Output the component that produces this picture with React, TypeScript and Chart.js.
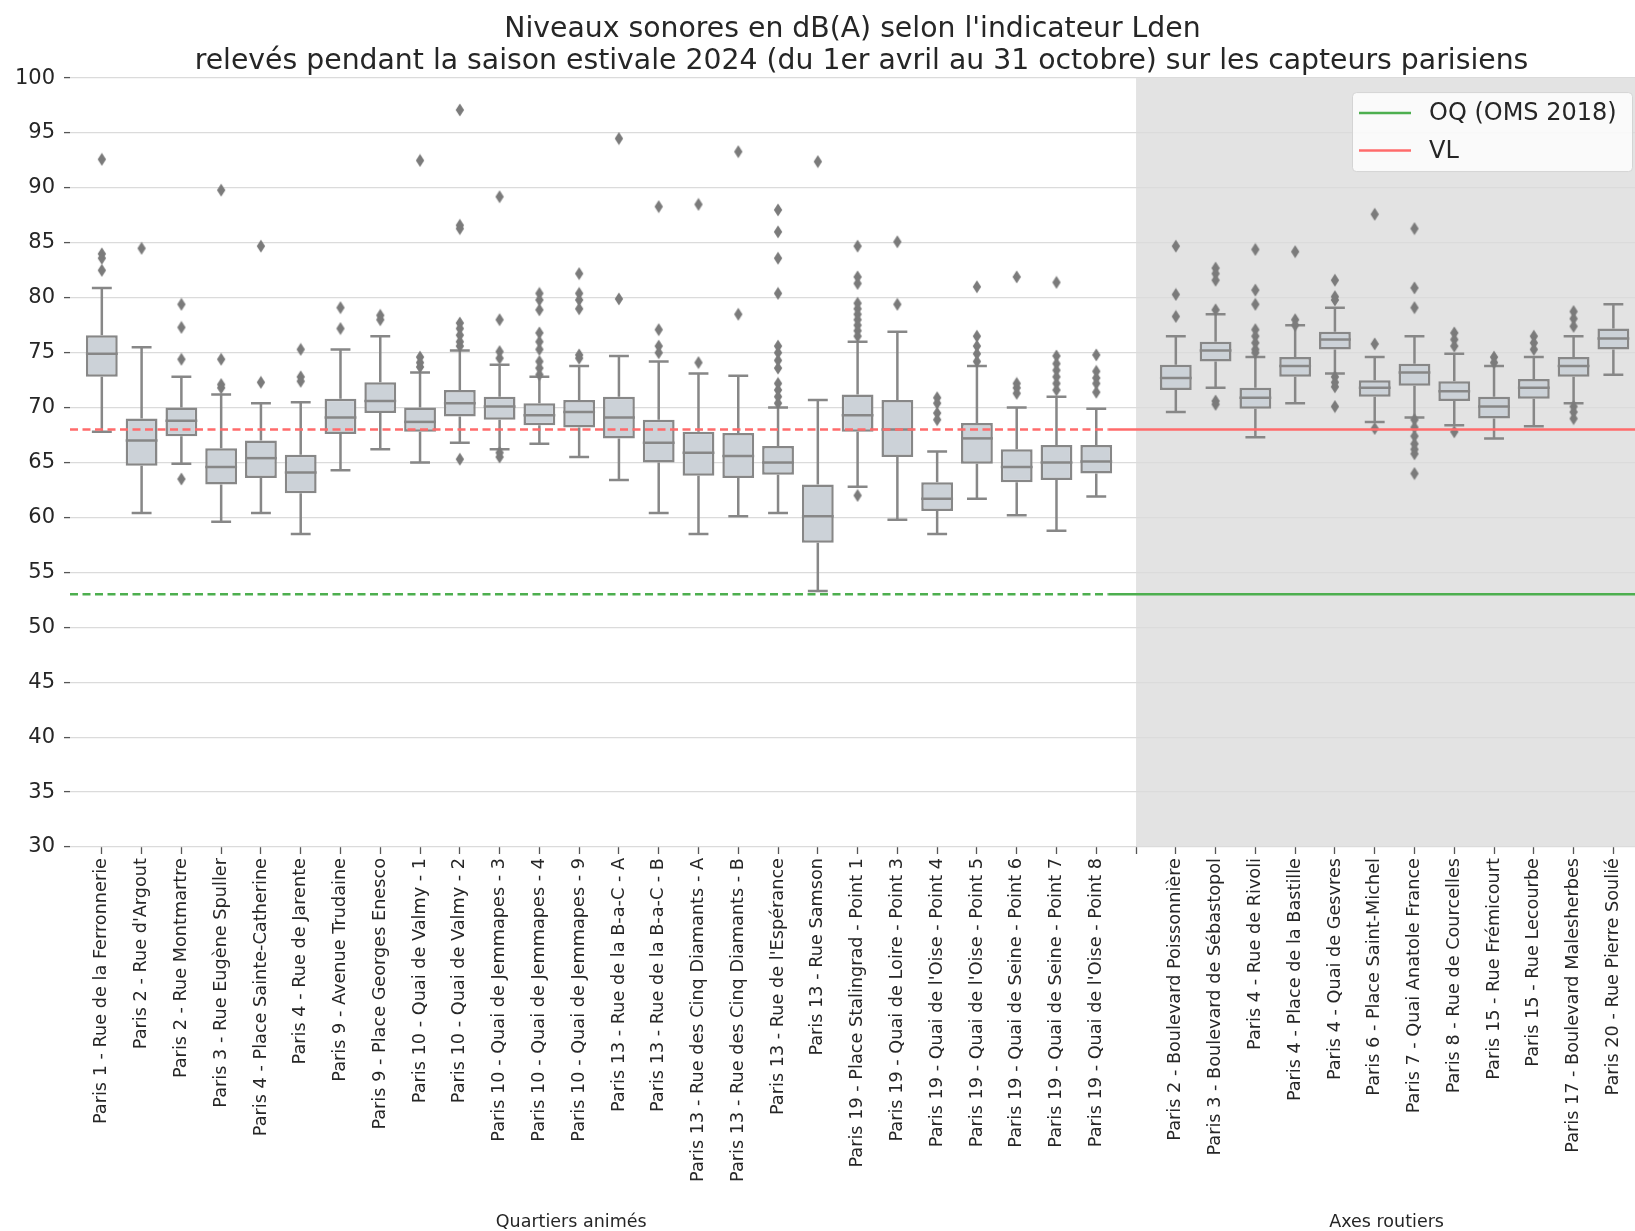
import React, { useEffect, useRef } from 'react';
import { Chart, registerables } from 'chart.js';

Chart.register(...registerables);

const FONT = "'DejaVu Sans', sans-serif";

const TITLE_LINES = [
  "Niveaux sonores en dB(A) selon l'indicateur Lden ",
  " relevés pendant la saison estivale 2024 (du 1er avril au 31 octobre) sur les capteurs parisiens",
];

const SITES = [
  "Paris 1 - Rue de la Ferronnerie",
  "Paris 2 - Rue d'Argout",
  "Paris 2 - Rue Montmartre",
  "Paris 3 - Rue Eugène Spuller",
  "Paris 4 - Place Sainte-Catherine",
  "Paris 4 - Rue de Jarente",
  "Paris 9 - Avenue Trudaine",
  "Paris 9 - Place Georges Enesco",
  "Paris 10 - Quai de Valmy - 1",
  "Paris 10 - Quai de Valmy - 2",
  "Paris 10 - Quai de Jemmapes - 3",
  "Paris 10 - Quai de Jemmapes - 4",
  "Paris 10 - Quai de Jemmapes - 9",
  "Paris 13 - Rue de la B-a-C - A",
  "Paris 13 - Rue de la B-a-C - B",
  "Paris 13 - Rue des Cinq Diamants - A",
  "Paris 13 - Rue des Cinq Diamants - B",
  "Paris 13 - Rue de l'Espérance",
  "Paris 13 - Rue Samson",
  "Paris 19 - Place Stalingrad - Point 1",
  "Paris 19 - Quai de Loire - Point 3",
  "Paris 19 - Quai de l'Oise - Point 4",
  "Paris 19 - Quai de l'Oise - Point 5",
  "Paris 19 - Quai de Seine - Point 6",
  "Paris 19 - Quai de Seine - Point 7",
  "Paris 19 - Quai de l'Oise - Point 8",
  "",
  "Paris 2 - Boulevard Poissonnière",
  "Paris 3 - Boulevard de Sébastopol",
  "Paris 4 - Rue de Rivoli",
  "Paris 4 - Place de la Bastille",
  "Paris 4 - Quai de Gesvres",
  "Paris 6 - Place Saint-Michel",
  "Paris 7 - Quai Anatole France",
  "Paris 8 - Rue de Courcelles",
  "Paris 15 - Rue Frémicourt",
  "Paris 15 - Rue Lecourbe",
  "Paris 17 - Boulevard Malesherbes",
  "Paris 20 - Rue Pierre Soulié",
];

const WHISKER_LOW = [67.8, 60.4, 64.9, 59.6, 60.4, 58.5, 64.3, 66.2, 65.0, 66.8, 66.2, 66.7, 65.5, 63.4, 60.4, 58.5, 60.1, 60.4, 53.3, 62.8, 59.8, 58.5, 61.7, 60.2, 58.8, 61.9, null, 69.6, 71.8, 67.3, 70.4, 73.1, 68.7, 69.1, 68.4, 67.2, 68.3, 70.4, 73.0];
const Q1 = [72.8, 64.7, 67.4, 63.0, 63.6, 62.2, 67.6, 69.5, 67.8, 69.2, 68.9, 68.4, 68.2, 67.2, 65.0, 63.8, 63.6, 63.9, 57.7, 67.8, 65.5, 60.6, 64.9, 63.2, 63.4, 64.0, null, 71.6, 74.2, 69.9, 72.8, 75.3, 71.0, 72.0, 70.6, 69.0, 70.8, 72.8, 75.3];
const MEDIAN = [74.9, 67.0, 68.8, 64.6, 65.4, 64.1, 69.1, 70.6, 68.7, 70.4, 70.1, 69.3, 69.6, 69.1, 66.8, 65.9, 65.6, 65.0, 60.1, 69.3, 68.0, 61.7, 67.2, 64.6, 65.0, 65.1, null, 72.7, 75.2, 70.9, 73.8, 76.2, 71.8, 73.2, 71.5, 70.1, 71.8, 73.8, 76.3];
const Q3 = [76.6, 69.0, 70.0, 66.3, 67.0, 65.7, 70.8, 72.3, 70.0, 71.6, 71.0, 70.4, 70.7, 71.0, 68.9, 67.8, 67.7, 66.5, 63.0, 71.2, 70.7, 63.2, 68.6, 66.2, 66.6, 66.6, null, 73.9, 76.0, 71.8, 74.6, 76.9, 72.5, 74.0, 72.4, 71.0, 72.6, 74.6, 77.2];
const WHISKER_HIGH = [80.9, 75.5, 72.8, 71.2, 70.4, 70.5, 75.3, 76.5, 73.2, 75.2, 73.9, 72.8, 73.8, 74.7, 74.2, 73.1, 72.9, 70.0, 70.7, 76.0, 76.9, 66.0, 73.8, 70.0, 71.0, 69.9, null, 76.5, 78.5, 74.6, 77.5, 79.1, 74.6, 76.5, 74.9, 73.8, 74.6, 76.5, 79.4];

const OUTLIERS: number[][] = [
  [92.6, 84.0, 83.6, 82.5],
  [84.5],
  [79.4, 77.3, 74.4, 63.5],
  [89.8, 74.4, 72.1, 71.8],
  [84.7, 72.3],
  [75.3, 72.8, 72.4],
  [79.1, 77.2],
  [78.4, 78.0],
  [92.5, 74.6, 74.1, 73.7],
  [97.1, 86.6, 86.3, 77.7, 77.2, 76.6, 76.0, 75.6, 65.3],
  [89.2, 78.0, 75.1, 74.5, 65.9, 65.5],
  [80.4, 79.8, 78.9, 76.8, 76.0, 75.3, 74.2, 73.6, 73.0],
  [82.2, 80.4, 79.8, 79.0, 74.8, 74.5],
  [94.5, 79.9],
  [88.3, 77.1, 75.6, 75.0],
  [88.5, 74.1],
  [93.3, 78.5],
  [88.0, 86.0, 83.6, 80.4, 75.6, 75.0, 74.3, 73.6, 72.2, 71.6, 71.0, 70.4],
  [92.4],
  [84.7, 81.9, 81.3, 79.5, 79.0, 78.5, 78.0, 77.5, 77.0, 76.5, 62.0],
  [85.1, 79.4],
  [70.9, 70.4, 69.5, 68.9],
  [81.0, 76.5, 75.6, 74.9, 74.2],
  [81.9, 72.2, 71.8, 71.3],
  [81.4, 74.7, 74.0, 73.4, 72.8, 72.2, 71.6],
  [74.8, 73.3, 72.7, 72.2, 71.4],
  [],
  [84.7, 80.3, 78.3],
  [82.7, 82.2, 81.6, 78.9, 70.6, 70.3],
  [84.4, 80.7, 79.4, 77.1, 76.5, 75.9, 75.3, 75.0],
  [84.2, 78.0, 77.5],
  [81.6, 80.1, 79.8, 72.8, 72.3, 71.9, 70.1],
  [87.6, 75.8, 68.1],
  [86.3, 80.9, 79.1, 68.9, 68.2, 67.4, 66.7, 66.2, 65.8, 64.0],
  [76.8, 76.2, 75.6, 67.8],
  [74.6, 74.1],
  [76.5, 75.9, 75.3],
  [78.75, 78.1, 77.4, 70.1, 69.6, 69.0],
  [],
];

const OQ_LEVEL = 53;
const VL_LEVEL = 68;
const OQ_LABEL = 'OQ (OMS 2018)';
const VL_LABEL = 'VL';
const GROUP_LABELS = ['Quartiers animés', 'Axes routiers'];

// layout constants (not data)
const X_MIN = -0.8;
const X_MAX = 38.77;
const LINE_SPLIT = 25.3;
const SHADE_FROM = 26;
const GROUP_CENTERS = [11.8, 32.3];
const Y_MIN = 30;
const Y_MAX = 100;
const CANVAS_W = 1651; // plot area runs slightly past the visible 1635px, as in the original figure
const CANVAS_H = 1231;

const GREEN = '#4daf4f';
const RED = '#ff6b6b';
const BOX_FILL = '#ccd2d8';
const BOX_EDGE = '#878787';
const FLIER = '#7b7b7b';
const SHADE = '#e3e3e3';
const TEXT = '#262626';

function makeDiamond(): HTMLCanvasElement {
  const c = document.createElement('canvas');
  const w = 10;
  const h = 14;
  c.width = w;
  c.height = h;
  const g = c.getContext('2d')!;
  g.fillStyle = FLIER;
  g.beginPath();
  g.moveTo(w / 2, 0.5);
  g.lineTo(w - 0.8, h / 2);
  g.lineTo(w / 2, h - 0.5);
  g.lineTo(0.8, h / 2);
  g.closePath();
  g.fill();
  return c;
}

export default function App() {
  const ref = useRef<HTMLCanvasElement | null>(null);

  useEffect(() => {
    if (!ref.current) return;
    const idx = SITES.map((_, i) => i).filter((i) => Q1[i] !== null);

    const boxData = idx.map((i) => ({ x: i, y: [Q1[i] as number, Q3[i] as number] }));
    const flierData = OUTLIERS.flatMap((vals, i) => vals.map((v) => ({ x: i, y: v })));
    const BOX_INDEX = 4;

    const extras = {
      id: 'boxExtras',
      beforeDraw(chart: any) {
        const { ctx, chartArea, scales } = chart;
        const x0 = scales.x.getPixelForValue(SHADE_FROM);
        ctx.save();
        ctx.fillStyle = SHADE;
        ctx.fillRect(x0, chartArea.top, chartArea.right - x0, chartArea.bottom - chartArea.top);
        ctx.restore();
      },
      beforeDatasetsDraw(chart: any) {
        const { ctx, scales } = chart;
        const { x, y } = scales;
        ctx.save();
        ctx.strokeStyle = BOX_EDGE;
        ctx.lineWidth = 2.5;
        idx.forEach((i) => {
          const cx = x.getPixelForValue(i);
          const half = x.getPixelForValue(i + 0.25) - cx;
          const lo = y.getPixelForValue(WHISKER_LOW[i]);
          const q1 = y.getPixelForValue(Q1[i]);
          const q3 = y.getPixelForValue(Q3[i]);
          const hi = y.getPixelForValue(WHISKER_HIGH[i]);
          ctx.beginPath();
          ctx.moveTo(cx, q1);
          ctx.lineTo(cx, lo);
          ctx.moveTo(cx - half, lo);
          ctx.lineTo(cx + half, lo);
          ctx.moveTo(cx, q3);
          ctx.lineTo(cx, hi);
          ctx.moveTo(cx - half, hi);
          ctx.lineTo(cx + half, hi);
          ctx.stroke();
        });
        ctx.restore();
      },
      afterDatasetDraw(chart: any, args: any) {
        if (args.index !== BOX_INDEX) return;
        const { ctx, scales } = chart;
        const { x, y } = scales;
        ctx.save();
        ctx.strokeStyle = BOX_EDGE;
        ctx.lineWidth = 2.5;
        idx.forEach((i) => {
          const cx = x.getPixelForValue(i);
          const half = x.getPixelForValue(i + 0.4) - cx;
          const m = y.getPixelForValue(MEDIAN[i]);
          ctx.beginPath();
          ctx.moveTo(cx - half, m);
          ctx.lineTo(cx + half, m);
          ctx.stroke();
        });
        ctx.restore();
      },
      afterDraw(chart: any) {
        const { ctx, chartArea, scales } = chart;
        ctx.save();
        // group labels
        ctx.fillStyle = TEXT;
        ctx.font = `17.5px ${FONT}`;
        ctx.textAlign = 'center';
        ctx.textBaseline = 'middle';
        GROUP_LABELS.forEach((g, k) => {
          ctx.fillText(g, scales.x.getPixelForValue(GROUP_CENTERS[k]), 1222);
        });
        // legend
        const items = chart.data.datasets.filter((d: any) => d.legendItem);
        const bw = 280;
        const bh = 79;
        const bx = chartArea.right - 12 - bw;
        const by = chartArea.top + 14;
        ctx.beginPath();
        ctx.roundRect(bx + 0.5, by + 0.5, bw, bh, 4);
        ctx.fillStyle = 'rgba(255,255,255,0.8)';
        ctx.fill();
        ctx.strokeStyle = '#d4d4d4';
        ctx.lineWidth = 1;
        ctx.stroke();
        ctx.font = `24px ${FONT}`;
        ctx.textAlign = 'left';
        items.forEach((d: any, k: number) => {
          const ly = by + 21 + k * 37.5;
          ctx.strokeStyle = d.borderColor;
          ctx.lineWidth = 2.5;
          ctx.beginPath();
          ctx.moveTo(bx + 7, ly);
          ctx.lineTo(bx + 59, ly);
          ctx.stroke();
          ctx.fillStyle = TEXT;
          ctx.fillText(d.label, bx + 77, ly + 1);
        });
        ctx.restore();
      },
    };

    const lineBase = { type: 'line', pointRadius: 0, borderWidth: 2.5, fill: false, order: 0 };

    const chart = new Chart(ref.current, {
      type: 'bar',
      data: {
        datasets: [
          { ...lineBase, label: OQ_LABEL, borderColor: GREEN, borderDash: [8, 4.5], data: [{ x: X_MIN, y: OQ_LEVEL }, { x: LINE_SPLIT, y: OQ_LEVEL }] },
          { ...lineBase, label: OQ_LABEL, legendItem: true, borderColor: GREEN, data: [{ x: LINE_SPLIT, y: OQ_LEVEL }, { x: X_MAX, y: OQ_LEVEL }] },
          { ...lineBase, label: VL_LABEL, borderColor: RED, borderDash: [8, 4.5], data: [{ x: X_MIN, y: VL_LEVEL }, { x: LINE_SPLIT, y: VL_LEVEL }] },
          { ...lineBase, label: VL_LABEL, legendItem: true, borderColor: RED, data: [{ x: LINE_SPLIT, y: VL_LEVEL }, { x: X_MAX, y: VL_LEVEL }] },
          {
            type: 'bar',
            label: 'boxes',
            data: boxData,
            backgroundColor: BOX_FILL,
            borderColor: BOX_EDGE,
            borderWidth: 2.5,
            borderSkipped: false,
            barPercentage: 0.8,
            categoryPercentage: 1,
            grouped: false,
            order: 2,
          },
          {
            type: 'scatter',
            label: 'outliers',
            data: flierData,
            pointStyle: makeDiamond(),
            pointRadius: 6,
            backgroundColor: FLIER,
            borderColor: FLIER,
            order: 1,
          },
        ] as any,
      },
      options: {
        animation: false,
        responsive: false,
        devicePixelRatio: 1,
        layout: { padding: 0 },
        plugins: {
          legend: { display: false },
          tooltip: { enabled: false },
          title: {
            display: true,
            text: TITLE_LINES,
            fullSize: false,
            color: TEXT,
            font: { family: FONT, size: 28.3, weight: 'normal', lineHeight: 1.15 },
            padding: { top: 13, bottom: 0 },
          },
        },
        scales: {
          x: {
            type: 'linear',
            min: X_MIN,
            max: X_MAX,
            offset: false,
            afterBuildTicks: (s: any) => {
              s.ticks = SITES.map((_, i) => ({ value: i }));
            },
            afterFit: (s: any) => {
              s.height = 384;
              s.paddingLeft = 0;
              s.paddingRight = 0;
            },
            ticks: {
              autoSkip: false,
              minRotation: 90,
              maxRotation: 90,
              padding: 4,
              color: TEXT,
              font: { family: FONT, size: 17.7 },
              callback: (v: any) => SITES[Math.round(Number(v))] ?? '',
            },
            grid: { offset: false, drawOnChartArea: false, drawTicks: true, tickLength: 7, tickColor: '#555555', tickWidth: 1.3 },
            border: { display: false },
          },
          y: {
            type: 'linear',
            min: Y_MIN,
            max: Y_MAX,
            beginAtZero: false,
            afterFit: (s: any) => {
              s.width = 70;
            },
            ticks: { stepSize: 5, padding: 9, color: TEXT, font: { family: FONT, size: 21 } },
            grid: { color: '#dbdbdb', lineWidth: 1.2, tickLength: 6, tickColor: '#555555', tickWidth: 1.3 },
            border: { display: false },
          },
        },
      } as any,
      plugins: [extras],
    });

    return () => chart.destroy();
  }, []);

  return (
    <div style={{ position: 'absolute', left: 0, top: 0, width: 1635, height: 1231, background: '#ffffff', overflow: 'hidden' }}>
      <canvas ref={ref} width={CANVAS_W} height={CANVAS_H} style={{ display: 'block' }} />
    </div>
  );
}
